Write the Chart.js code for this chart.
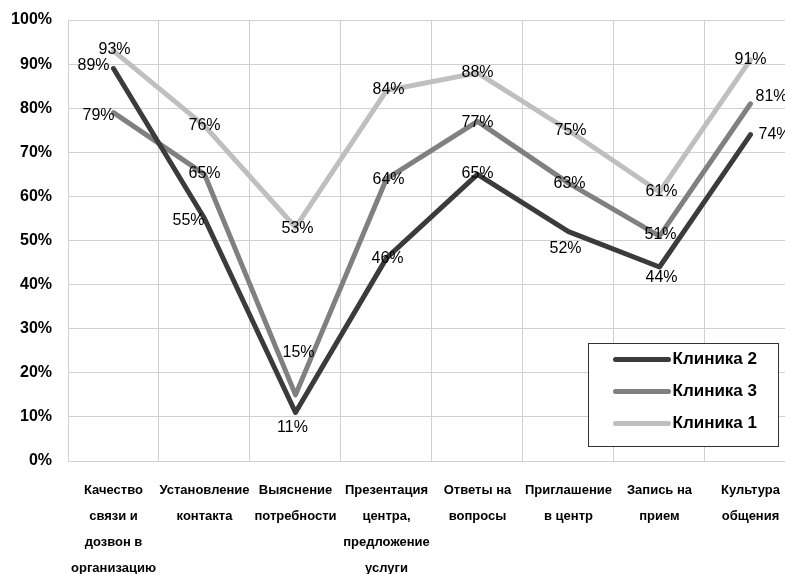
<!DOCTYPE html>
<html>
<head>
<meta charset="utf-8">
<script src="https://cdn.jsdelivr.net/npm/chart.js@4/dist/chart.umd.min.js"></script>
<style>
  html, body { margin: 0; padding: 0; background: #fff; overflow: hidden; }
  #wrap { width: 796px; height: 574px; }
</style>
</head>
<body>
<div id="wrap"><canvas id="chart" width="796" height="574"></canvas></div>
<script>
const categories = [
  ['Качество', 'связи и', 'дозвон в', 'организацию'],
  ['Установление', 'контакта'],
  ['Выяснение', 'потребности'],
  ['Презентация', 'центра,', 'предложение', 'услуги'],
  ['Ответы на', 'вопросы'],
  ['Приглашение', 'в центр'],
  ['Запись на', 'прием'],
  ['Культура', 'общения']
];
const seriesNames = ['Клиника 2', 'Клиника 3', 'Клиника 1'];
const clinic2 = [89, 55, 11, 46, 65, 52, 44, 74];
const clinic3 = [79, 65, 15, 64, 77, 63, 51, 81];
const clinic1 = [93, 76, 53, 84, 88, 75, 61, 91];
const yTicks = [0, 10, 20, 30, 40, 50, 60, 70, 80, 90, 100];

const colors = ['#3b3b3b', '#808080', '#bfbfbf'];
const font = '"Liberation Sans", Arial, sans-serif';

// where each value label sits relative to its point (px)
const labelShift = [
  [[-20, -3], [-16, 2], [-3, 15], [1, 0], [0, -1], [-3, 17], [2, 11], [24, 0]],
  [[-15, 3], [0, -1], [3, -42], [2, 1], [0, 1], [1, 0], [1, -1], [21, -7]],
  [[1, -1], [0, 0], [2, 1], [2, -1], [0, 0], [2, 0], [2, 0], [0, 0]]
];

const valueLabels = {
  id: 'valueLabels',
  afterDatasetsDraw(chart) {
    const ctx = chart.ctx;
    ctx.save();
    ctx.font = '16px ' + font;
    ctx.fillStyle = '#000';
    ctx.textAlign = 'center';
    ctx.textBaseline = 'middle';
    chart.data.datasets.forEach((ds, di) => {
      chart.getDatasetMeta(di).data.forEach((pt, i) => {
        const s = labelShift[di][i];
        ctx.fillText(ds.data[i] + '%', pt.x + s[0], pt.y + s[1]);
      });
    });
    ctx.restore();
  }
};

const boxLegend = {
  id: 'boxLegend',
  afterDraw(chart) {
    const ctx = chart.ctx;
    const x = 588.5, y = 343.5, w = 190, h = 103;
    ctx.save();
    ctx.fillStyle = '#fff';
    ctx.fillRect(x, y, w, h);
    ctx.strokeStyle = '#333';
    ctx.lineWidth = 1;
    ctx.strokeRect(x, y, w, h);
    ctx.font = 'bold 17px ' + font;
    ctx.textAlign = 'left';
    ctx.textBaseline = 'middle';
    chart.data.datasets.forEach((ds, i) => {
      const ry = y + 16 + i * 32;
      ctx.strokeStyle = ds.borderColor;
      ctx.lineWidth = 5;
      ctx.lineCap = 'round';
      ctx.beginPath();
      ctx.moveTo(x + 27, ry);
      ctx.lineTo(x + 80, ry);
      ctx.stroke();
      ctx.fillStyle = '#000';
      ctx.fillText(ds.label, x + 84, ry);
    });
    ctx.restore();
  }
};

const seriesData = [clinic2, clinic3, clinic1];

new Chart(document.getElementById('chart'), {
  type: 'line',
  data: {
    labels: categories,
    datasets: seriesNames.map((name, i) => ({
      label: name,
      data: seriesData[i],
      borderColor: colors[i],
      backgroundColor: colors[i],
      borderWidth: 5,
      borderCapStyle: 'round',
      borderJoinStyle: 'round',
      pointRadius: 0,
      tension: 0
    }))
  },
  options: {
    responsive: false,
    animation: false,
    layout: { padding: { top: 20, left: 0, right: 0, bottom: 0 } },
    plugins: {
      legend: { display: false },
      tooltip: { enabled: false }
    },
    scales: {
      x: {
        offset: true,
        grid: { offset: true, color: '#d0d0d0', drawTicks: false },
        border: { color: '#d0d0d0' },
        ticks: {
          color: '#000',
          padding: 16,
          maxRotation: 0,
          autoSkip: false,
          font: { family: font, size: 13, weight: 'bold', lineHeight: 2 }
        },
        afterFit(scale) { scale.height = 113; }
      },
      y: {
        min: 0,
        max: 100,
        afterBuildTicks(scale) { scale.ticks = yTicks.map(v => ({ value: v })); },
        grid: { color: '#d0d0d0', drawTicks: false },
        border: { color: '#d0d0d0' },
        ticks: {
          color: '#000',
          padding: 16,
          callback: v => v + '%',
          font: { family: font, size: 16, weight: 'bold' }
        },
        afterFit(scale) {
          scale.width = 68;
          scale.paddingTop = 0;
          scale.paddingBottom = 0;
        }
      }
    }
  },
  plugins: [valueLabels, boxLegend]
});
</script>
</body>
</html>
